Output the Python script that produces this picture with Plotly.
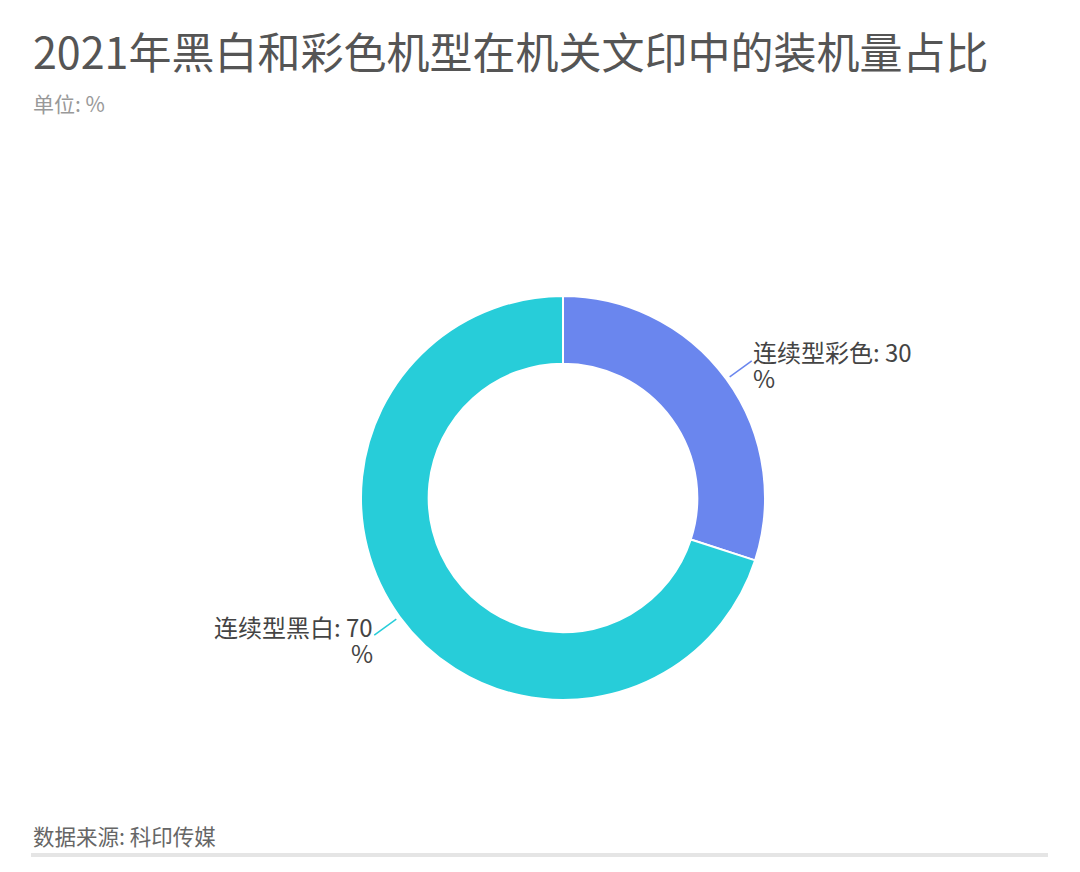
import math
import plotly.graph_objects as go

title = "2021年黑白和彩色机型在机关文印中的装机量占比"
subtitle = "单位: %"
source = "数据来源: 科印传媒"

labels = ["连续型彩色", "连续型黑白"]
values = [30, 70]
colors = ["#6A86EE", "#27CDD9"]

W, H = 1080, 872
OFF = 8  # page body margin shifts everything by 8px
cx, cy, R = 563 - OFF, 498 - OFF, 202  # donut centre / radius in px


def px(x, y):
    return x / W, 1 - y / H


fig = go.Figure()
fig.add_trace(
    go.Pie(
        labels=labels,
        values=values,
        hole=0.665,
        sort=False,
        direction="clockwise",
        rotation=0,
        marker=dict(colors=colors, line=dict(color="white", width=2)),
        textinfo="none",
        hoverinfo="label+percent",
        showlegend=False,
        domain=dict(
            x=[(cx - R) / W, (cx + R) / W],
            y=[1 - (cy + R) / H, 1 - (cy - R) / H],
        ),
    )
)

# leader lines and outside labels, placed at each slice's mid angle
total = sum(values)
cum = 0
for lab, v, c in zip(labels, values, colors):
    mid = (cum + v / 2) / total * 2 * math.pi
    cum += v
    sx, sy = math.sin(mid), -math.cos(mid)
    x0, y0 = cx + R * 1.02 * sx, cy + R * 1.02 * sy
    x1, y1 = cx + R * 1.155 * sx, cy + R * 1.155 * sy
    fig.add_shape(
        type="line", xref="paper", yref="paper",
        x0=x0 / W, y0=1 - y0 / H, x1=x1 / W, y1=1 - y1 / H,
        line=dict(color=c, width=1.5),
    )
    anchor = "left" if sx >= 0 else "right"
    for txt, dy in ((f"{lab}: {v}", -9), ("%", 17)):
        ax, ay = px(x1, y1 + dy)
        fig.add_annotation(
            x=ax, y=ay, xref="paper", yref="paper",
            text=txt, showarrow=False,
            xanchor=anchor, yanchor="middle", borderpad=0,
            font=dict(size=24, color="#444444"),
        )

for txt, y, size, color in (
    (title, 50, 43, "#555555"),
    (subtitle, 103, 21, "#999999"),
    (source, 835, 21.5, "#666666"),
):
    ax, ay = px(31 - OFF, y - OFF)
    fig.add_annotation(
        x=ax, y=ay, xref="paper", yref="paper",
        text=txt, showarrow=False, xanchor="left", yanchor="middle",
        font=dict(size=size, color=color),
    )

fig.add_shape(
    type="line", xref="paper", yref="paper",
    x0=(31 - OFF) / W, x1=(1048 - OFF) / W,
    y0=1 - (855 - OFF) / H, y1=1 - (855 - OFF) / H,
    line=dict(color="#E5E5E5", width=4),
)

fig.update_layout(
    width=W,
    height=H,
    margin=dict(l=0, r=0, t=0, b=0),
    paper_bgcolor="white",
    plot_bgcolor="white",
    font=dict(family="Noto Sans CJK SC, Noto Sans, sans-serif"),
)

fig.write_html("out.html")
